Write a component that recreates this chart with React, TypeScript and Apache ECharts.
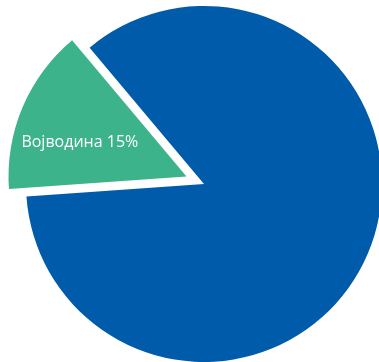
import React, { useEffect, useRef } from "react";
import * as echarts from "echarts";

const names = ["Војводина", "Остало"];
const values = [15, 85];
const colors = ["#3CB38A", "#005BAA"];
const showLabel = [true, false];

export default function App() {
  const ref = useRef<HTMLDivElement>(null);
  useEffect(() => {
    const chart = echarts.init(ref.current!, null, { renderer: "svg" });
    chart.setOption({
      animation: false,
      series: [
        {
          type: "pie",
          center: [204, 184],
          radius: [0, 178],
          startAngle: 184,
          clockwise: true,
          selectedMode: "single",
          selectedOffset: 19,
          silent: true,
          emphasis: { disabled: true },
          labelLine: { show: false },
          data: names.map((n, i) => ({
            name: n,
            value: values[i],
            selected: i === 0,
            itemStyle: { color: colors[i] },
            label: {
              show: showLabel[i],
              position: "inside",
              formatter: "{b} {c}%",
              color: "#fff",
              fontSize: 16,
              fontFamily: "Open Sans",
              padding: [0, 44, 0, 0],
            },
          })),
        },
      ],
    });
    return () => chart.dispose();
  }, []);
  return (
    <div
      ref={ref}
      style={{ position: "fixed", left: 0, top: 0, width: 379, height: 362 }}
    />
  );
}
